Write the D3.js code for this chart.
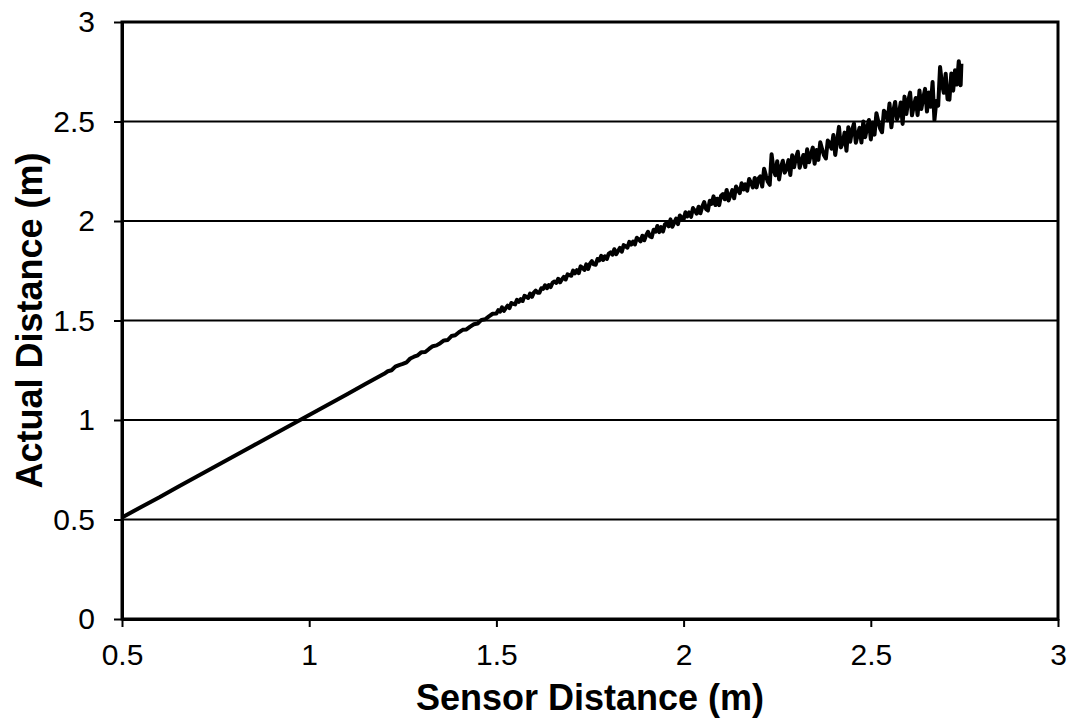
<!DOCTYPE html>
<html>
<head>
<meta charset="utf-8">
<script src="https://cdn.jsdelivr.net/npm/d3@7"></script>
<style>
  body { margin: 0; background: #fff; }
  svg { display: block; font-family: "Liberation Sans", Arial, sans-serif; }
  .tick text { font-size: 30px; fill: #000; }
  .axis-title { font-size: 36px; font-weight: bold; fill: #000; }
</style>
</head>
<body>
<svg id="chart" width="1069" height="719"></svg>
<script>
// Sensor calibration plot: actual vs. sensor distance, one noisy trace.

// axis ticks
const xTicks = [0.5, 1, 1.5, 2, 2.5, 3];
const yTicks = [0, 0.5, 1, 1.5, 2, 2.5, 3];

// [sensor (m), actual (m)] -- smooth near range
const nearReadings = [
  [0.50, 0.510], [0.55, 0.562], [0.60, 0.612], [0.65, 0.665], [0.70, 0.716],
  [0.75, 0.768], [0.80, 0.819], [0.85, 0.871], [0.90, 0.922], [0.95, 0.974],
  [1.00, 1.025], [1.05, 1.077], [1.10, 1.128], [1.15, 1.181], [1.20, 1.232]
];

// mid range, slight noise
const midReadings = [
  [1.21, 1.245], [1.22, 1.250], [1.23, 1.268], [1.24, 1.276], [1.25, 1.282],
  [1.26, 1.290], [1.27, 1.309], [1.28, 1.318], [1.29, 1.325], [1.30, 1.341],
  [1.31, 1.342], [1.32, 1.357], [1.33, 1.371], [1.34, 1.375], [1.35, 1.386],
  [1.36, 1.400], [1.37, 1.402], [1.38, 1.422], [1.39, 1.426], [1.40, 1.441],
  [1.41, 1.453], [1.42, 1.455], [1.43, 1.469], [1.44, 1.481], [1.45, 1.485],
  [1.46, 1.503], [1.47, 1.506], [1.48, 1.521], [1.49, 1.534], [1.50, 1.535]
];

// upper mid range, noise growing
const upperReadings = [
  [1.505, 1.552], [1.510, 1.545], [1.515, 1.566], [1.520, 1.548], [1.525, 1.562],
  [1.530, 1.575], [1.535, 1.562], [1.540, 1.588], [1.545, 1.584], [1.550, 1.581],
  [1.555, 1.604], [1.560, 1.594], [1.565, 1.607], [1.570, 1.598], [1.575, 1.624],
  [1.580, 1.619], [1.585, 1.613], [1.590, 1.635], [1.595, 1.619], [1.600, 1.640],
  [1.605, 1.650], [1.610, 1.640], [1.615, 1.640], [1.620, 1.662], [1.625, 1.659],
  [1.630, 1.677], [1.635, 1.662], [1.640, 1.678], [1.645, 1.668], [1.650, 1.690],
  [1.655, 1.696], [1.660, 1.689], [1.665, 1.710], [1.670, 1.692], [1.675, 1.706],
  [1.680, 1.719], [1.685, 1.706], [1.690, 1.732], [1.695, 1.728], [1.700, 1.725],
  [1.705, 1.751], [1.710, 1.737], [1.715, 1.753], [1.720, 1.738], [1.725, 1.772],
  [1.730, 1.764], [1.735, 1.754], [1.740, 1.782], [1.745, 1.759], [1.750, 1.785],
  [1.755, 1.798], [1.760, 1.782], [1.765, 1.780], [1.770, 1.809], [1.775, 1.802],
  [1.780, 1.825], [1.785, 1.804], [1.790, 1.823], [1.795, 1.809], [1.800, 1.836],
  [1.805, 1.842], [1.810, 1.831], [1.815, 1.858], [1.820, 1.833], [1.825, 1.849],
  [1.830, 1.865], [1.835, 1.846], [1.840, 1.879], [1.845, 1.873], [1.850, 1.866],
  [1.855, 1.895], [1.860, 1.881], [1.865, 1.897], [1.870, 1.882], [1.875, 1.916],
  [1.880, 1.908], [1.885, 1.898], [1.890, 1.926], [1.895, 1.903], [1.900, 1.929],
  [1.905, 1.946], [1.910, 1.923], [1.915, 1.919], [1.920, 1.956], [1.925, 1.946],
  [1.930, 1.975], [1.935, 1.944], [1.940, 1.969], [1.945, 1.947], [1.950, 1.983],
  [1.955, 1.990], [1.960, 1.973], [1.965, 2.008], [1.970, 1.971], [1.975, 1.992],
  [1.980, 2.012], [1.985, 1.984], [1.990, 2.028], [1.995, 2.017], [2.000, 2.007],
  [2.005, 2.044], [2.010, 2.023], [2.015, 2.043], [2.020, 2.021], [2.025, 2.065],
  [2.030, 2.052], [2.035, 2.037], [2.040, 2.072], [2.045, 2.039], [2.050, 2.073],
  [2.055, 2.095], [2.060, 2.060], [2.065, 2.053], [2.070, 2.102], [2.075, 2.086],
  [2.080, 2.124], [2.085, 2.080], [2.090, 2.112], [2.095, 2.080], [2.100, 2.127],
  [2.105, 2.135], [2.110, 2.109], [2.115, 2.156], [2.120, 2.103], [2.125, 2.129],
  [2.130, 2.155], [2.135, 2.114], [2.140, 2.173], [2.145, 2.156], [2.150, 2.140],
  [2.155, 2.190], [2.160, 2.158], [2.165, 2.184], [2.170, 2.152], [2.175, 2.211],
  [2.180, 2.192], [2.185, 2.169], [2.190, 2.216], [2.195, 2.169], [2.200, 2.213]
];

// far range, heavy noise
const farReadings = [
  [2.205, 2.224], [2.210, 2.173], [2.215, 2.263], [2.220, 2.227], [2.225, 2.197],
  [2.230, 2.182], [2.235, 2.335], [2.240, 2.261], [2.245, 2.230], [2.250, 2.300],
  [2.255, 2.209], [2.260, 2.269], [2.265, 2.303], [2.270, 2.243], [2.275, 2.262],
  [2.280, 2.306], [2.285, 2.231], [2.290, 2.330], [2.295, 2.270], [2.300, 2.319],
  [2.305, 2.348], [2.310, 2.268], [2.315, 2.302], [2.320, 2.332], [2.325, 2.271],
  [2.330, 2.360], [2.335, 2.295], [2.340, 2.334], [2.345, 2.369], [2.350, 2.288],
  [2.355, 2.357], [2.360, 2.307], [2.365, 2.396], [2.370, 2.361], [2.375, 2.330],
  [2.380, 2.314], [2.385, 2.404], [2.390, 2.393], [2.395, 2.363], [2.400, 2.432],
  [2.405, 2.332], [2.410, 2.403], [2.415, 2.473], [2.420, 2.370], [2.425, 2.392],
  [2.430, 2.444], [2.435, 2.353], [2.440, 2.471], [2.445, 2.398], [2.450, 2.456],
  [2.455, 2.490], [2.460, 2.393], [2.465, 2.433], [2.470, 2.468], [2.475, 2.394],
  [2.480, 2.500], [2.485, 2.421], [2.490, 2.467], [2.495, 2.508], [2.500, 2.410],
  [2.505, 2.494], [2.510, 2.434], [2.515, 2.542], [2.520, 2.500], [2.525, 2.464],
  [2.530, 2.446], [2.535, 2.554], [2.540, 2.542], [2.545, 2.506], [2.550, 2.590],
  [2.555, 2.471], [2.560, 2.552], [2.565, 2.598], [2.570, 2.511], [2.575, 2.536],
  [2.580, 2.596], [2.585, 2.488], [2.590, 2.625], [2.595, 2.538], [2.600, 2.605],
  [2.605, 2.645], [2.610, 2.531], [2.615, 2.578], [2.620, 2.618], [2.625, 2.532],
  [2.630, 2.656], [2.635, 2.563], [2.640, 2.617], [2.645, 2.664], [2.650, 2.550],
  [2.655, 2.646], [2.660, 2.574], [2.665, 2.698], [2.670, 2.507], [2.675, 2.603],
  [2.680, 2.580], [2.685, 2.774], [2.690, 2.688], [2.695, 2.644], [2.700, 2.740],
  [2.705, 2.612], [2.710, 2.610], [2.715, 2.741], [2.720, 2.655], [2.725, 2.758],
  [2.730, 2.686], [2.735, 2.803], [2.740, 2.682], [2.742, 2.790]
];

const readings = nearReadings.concat(midReadings, upperReadings, farReadings);

const width = 1069, height = 719;
const margin = { top: 22, right: 11, bottom: 100, left: 122 };
const plotW = width - margin.left - margin.right;
const plotH = height - margin.top - margin.bottom;

const svg = d3.select('#chart');
const g = svg.append('g').attr('transform', `translate(${margin.left},${margin.top})`);

const x = d3.scaleLinear().domain([0.5, 3]).range([0, plotW]);
const y = d3.scaleLinear().domain([0, 3]).range([plotH, 0]);

// horizontal gridlines
g.append('g')
  .selectAll('line')
  .data(yTicks.filter(v => v > 0))
  .join('line')
  .attr('x1', 0)
  .attr('x2', plotW)
  .attr('y1', d => y(d))
  .attr('y2', d => y(d))
  .attr('stroke', '#000')
  .attr('stroke-width', 2);

// plot frame
g.append('rect')
  .attr('width', plotW)
  .attr('height', plotH)
  .attr('fill', 'none')
  .attr('stroke', '#000')
  .attr('stroke-width', 3);

// axes
const fmt = d => String(d);

const xAxis = g.append('g')
  .attr('transform', `translate(0,${plotH})`)
  .call(d3.axisBottom(x).tickValues(xTicks).tickFormat(fmt).tickSize(8).tickPadding(17).tickSizeOuter(0));

const yAxis = g.append('g')
  .call(d3.axisLeft(y).tickValues(yTicks).tickFormat(fmt).tickSize(8).tickPadding(19).tickSizeOuter(0));

[xAxis, yAxis].forEach(a => {
  a.select('.domain').attr('stroke', '#000').attr('stroke-width', 3);
  a.selectAll('.tick line').attr('stroke', '#000').attr('stroke-width', 2);
  a.selectAll('.tick text').attr('font-family', null).attr('font-size', null);
});

// data trace
const line = d3.line()
  .x(d => x(d[0]))
  .y(d => y(d[1]));

g.append('path')
  .datum(readings)
  .attr('fill', 'none')
  .attr('stroke', '#000')
  .attr('stroke-width', 4)
  .attr('stroke-linejoin', 'round')
  .attr('d', line);

// axis titles
svg.append('text')
  .attr('class', 'axis-title')
  .attr('x', margin.left + plotW / 2)
  .attr('y', 710)
  .attr('text-anchor', 'middle')
  .text('Sensor Distance (m)');

svg.append('text')
  .attr('class', 'axis-title')
  .attr('transform', `translate(42,${margin.top + plotH / 2}) rotate(-90)`)
  .attr('text-anchor', 'middle')
  .text('Actual Distance (m)');
</script>
</body>
</html>
